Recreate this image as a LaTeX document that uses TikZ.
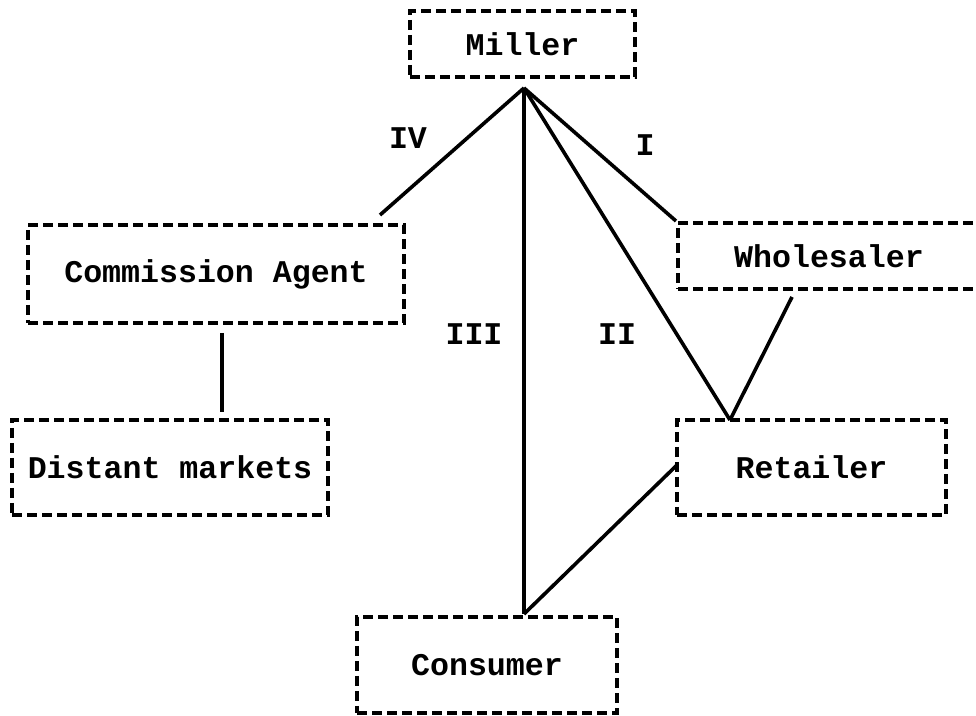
\documentclass[tikz,border=0pt]{standalone}
\usepackage{fontspec}
\setmonofont{Liberation Mono}
\begin{document}
\begin{tikzpicture}[x=0.5pt,y=-0.5pt,
  box/.style={draw, line width=2pt, dash pattern=on 5pt off 2.5pt, inner sep=0pt,
    font=\fontsize{15.8}{19}\selectfont\ttfamily\bfseries},
  lbl/.style={inner sep=0pt, font=\fontsize{15.8}{19}\selectfont\ttfamily\bfseries},
  conn/.style={line width=1.8pt}]
\useasboundingbox (0,0) rectangle (976,716);
% boxes
\node[box, minimum width=112.5pt, minimum height=33pt] (miller) at (522.5,44) {Miller};
\node[box, minimum width=188pt, minimum height=49pt] (ca) at (216,274) {Commission Agent};
\node[box, minimum width=158pt, minimum height=47.5pt] (dm) at (170,467.5) {Distant markets};
\node[box, minimum width=151pt, minimum height=33pt] (ws) at (829,256) {Wholesaler};
\node[box, minimum width=134.5pt, minimum height=47.5pt] (rt) at (811.5,467.5) {Retailer};
\node[box, minimum width=130pt, minimum height=48pt] (cn) at (487,665) {Consumer};
% labels
\node[lbl] (l4) at (408,138) {IV};
\node[lbl] (l1) at (645,145) {I};
\node[lbl] (l3) at (474,334) {III};
\node[lbl] (l2) at (617,334) {II};
% connector end points
\coordinate (apex) at (524,88);
\coordinate (caTop) at (380,215);
\coordinate (rtTop) at (730,420);
\coordinate (wsBot) at (792,297);
\coordinate (cnTop) at (524,614);
\coordinate (rtLeft) at (677,465);
\coordinate (caBot) at (222,333);
\coordinate (dmTop) at (222,412);
% connectors
\draw[conn] (apex) -- (caTop);
\draw[conn] (apex) -- (ws.north west);
\draw[conn] (apex) -- (rtTop);
\draw[conn] (apex) -- (cnTop);
\draw[conn] (wsBot) -- (rtTop);
\draw[conn] (cnTop) -- (rtLeft);
\draw[conn] (caBot) -- (dmTop);
\end{tikzpicture}
\end{document}
